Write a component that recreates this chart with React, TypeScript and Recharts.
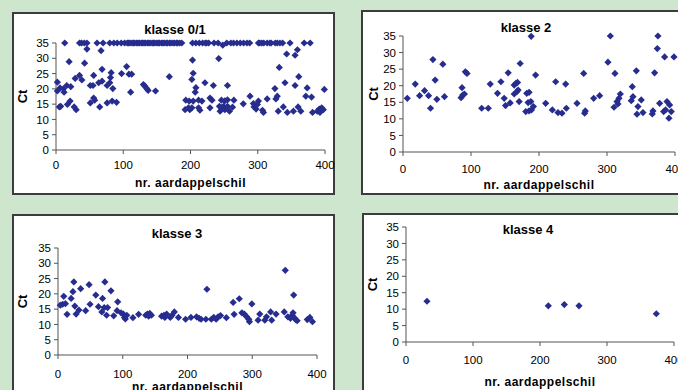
import React from 'react';
import { ScatterChart, Scatter, XAxis, YAxis } from 'recharts';

// Ct-waarden per klasse: [nr. aardappelschil, Ct]
const klasse01: [number, number][] = [
  [13, 35], [35, 35], [38, 35], [42, 35], [46, 35], [61, 35], [70, 35], [80, 35], [86, 35], [91, 35],
  [97, 35], [102, 35], [106, 35], [108, 35], [110, 35], [113, 35], [115, 35], [117, 35], [120, 35],
  [122, 35], [124, 35], [127, 35], [129, 35], [131, 35], [133, 35], [136, 35], [138, 35], [140, 35],
  [143, 35], [145, 35], [147, 35], [150, 35], [152, 35], [154, 35], [157, 35], [159, 35], [161, 35],
  [164, 35], [166, 35], [169, 35], [171, 35], [174, 35], [176, 35], [179, 35], [181, 35], [184, 35],
  [187, 35], [203, 35], [208, 35], [213, 35], [218, 35], [222, 35], [224, 35], [227, 35], [235, 35],
  [241, 35], [248, 34.3], [254, 35], [260, 35], [264, 35], [269, 35], [274, 35], [279, 35], [284, 35],
  [288, 35], [301, 35], [303, 35], [306, 35], [309, 35], [314, 35], [318, 35], [320, 35], [326, 35],
  [329, 35], [333, 35], [337, 35], [348, 35], [369, 35], [378, 35],
  [46, 33], [67, 32.5], [19.5, 28.9], [42.5, 28.4], [105, 27.3], [68.5, 26.4], [97.5, 25], [108.5, 24.8],
  [112.5, 24.8], [82, 25.3], [56, 24.4], [35, 24.4], [28.5, 23.4], [38.5, 22.9], [81, 23.7], [80, 22],
  [2, 22.2], [16, 21.1], [22, 20.7], [51, 21.1], [55, 21.1], [63.5, 22], [68.5, 22.5], [76, 21.1],
  [84.5, 20.1], [130, 21.4], [6, 20.3], [11, 20], [2, 19.3], [12, 18.9], [111, 18.9], [56, 17],
  [57.5, 16.3], [21, 16], [17, 14.9], [51, 15.4], [83.5, 16], [76, 15.4], [90, 15.6], [5, 14.1],
  [7, 14.3], [27, 14.1], [30, 13.2], [65, 14.1],
  [132, 20.9], [135, 20.1], [137, 19.5], [148, 19.3], [168.5, 24], [203, 29.4], [242, 29.9], [204, 25.1],
  [202, 23.1], [221.5, 22], [234, 21.1], [255, 21.1], [208, 20.4], [207, 18.9], [193, 16.3], [198, 16],
  [204, 16], [212, 16.3], [217, 16], [229, 17], [232, 16.3], [246, 16.3], [251, 16.1], [255, 16.4],
  [192, 13.2], [197, 13.8], [199, 13.2], [202, 13.8], [212, 13.8], [214, 13], [229, 13.8], [243, 14.3],
  [246, 13.8], [249, 14.3], [244, 12.7], [251, 13.2], [258, 12.7], [255, 14.3],
  [359, 32.8], [355.5, 31], [343, 31.4], [332, 27], [340.5, 22], [361, 24], [355.5, 21.1], [325.5, 20.1],
  [373.5, 20.3], [399, 19.8], [329, 17.6], [327, 16.7], [371.5, 17.6], [380, 17.3], [314, 16.7],
  [288.5, 17.6], [264.5, 16.3], [262.5, 14], [278.5, 15.1], [293.5, 15.2], [294.5, 14.1], [297.5, 13.4],
  [301, 16], [299.5, 14.9], [307, 13], [308.5, 12.3], [330.5, 12.7], [338, 14.1], [344, 12.3], [353, 12.7],
  [360, 14.1], [364, 12.7], [381.5, 12.3], [388.5, 12.7], [391.5, 13.4], [395, 13.8], [397.5, 13.2],
  [392.5, 12.3],
];

const klasse2: [number, number][] = [
  [6.3, 16.2], [18, 20.5], [24.4, 17], [31.7, 18.5], [37.6, 17], [40.5, 13.2], [44, 27.9], [47.3, 21.7],
  [49.8, 15.9], [58.6, 26.5], [61, 16.7], [85.4, 16.4], [87.8, 17.2], [90.3, 17.5], [86.8, 19.4],
  [91.7, 24.2], [94.2, 23.7], [115.7, 13.2], [125.4, 13.2], [128.3, 20.5], [139, 17.7], [144, 21.2],
  [148.8, 16.2], [154.7, 23.9], [157.6, 14.8], [150.8, 14], [163.5, 20.2], [166, 20.7], [168.4, 21],
  [163.5, 17.5], [167.4, 18.2], [169.3, 18.7], [172.3, 26.7], [170.8, 15.2], [182, 17.7], [185.4, 18],
  [180.6, 12.2], [185.4, 12.4], [184, 14.9], [188, 15.2], [188.5, 34.9], [188.9, 12.7], [191.8, 13.7],
  [195, 23.2], [209.8, 14.7], [219.6, 12.7], [224.5, 21.2], [227.9, 11.9], [233.8, 11.7], [239.2, 20.5],
  [240.2, 13.2], [255.9, 14.7], [265.7, 23.7], [268.1, 12.4], [267.1, 11.7], [280.4, 16.2], [289.2, 17],
  [301.4, 27.1], [304.9, 35], [311.7, 23.7], [310.3, 13.5], [314.7, 15.2], [317.6, 16.2], [319.6, 17.5],
  [316.1, 14.5], [335.7, 15.5], [338.2, 16.7], [337.2, 19.7], [343.1, 24.5], [345.5, 13.7], [344.1, 11.4],
  [350.4, 15.7], [352.9, 11.9], [367.6, 12.4], [366.6, 11.5], [370, 23.9], [374.9, 35], [374, 31.2],
  [384.7, 28.7], [377.4, 14.7], [383.3, 12.2], [386.2, 12.7], [388.2, 15.2], [392.1, 14.2], [394.5, 12.2],
  [391.1, 10.2], [398.5, 28.7],
];

const klasse3: [number, number][] = [
  [3.6, 16.3], [7.3, 16.6], [11.5, 16.8], [8.9, 19.2], [14, 13.3], [20.3, 18.5], [23, 20.7], [24.5, 23.9],
  [26, 16], [32.3, 14.7], [28, 13.4], [35, 21.7], [42.7, 14.5], [48, 23], [49.5, 16.6], [58.4, 19.6],
  [62.5, 15.8], [67.7, 14.1], [68.8, 18.5], [72.4, 23.9], [71.4, 15.5], [76.6, 15.5], [75, 13], [81.8, 21],
  [86, 12.8], [91.2, 14.5], [92.2, 17.4], [97.4, 13.8], [101, 13.4], [102.6, 12.3], [106.3, 13], [104, 11.8],
  [115.7, 12.2], [124.5, 13.3], [135.5, 13], [138, 13.4], [141.7, 13.6], [144.3, 13], [140, 12.7],
  [160, 12.7], [163.6, 13], [167.8, 13.4], [165, 12.3], [176, 13], [179.7, 14.1], [173.4, 12.3],
  [186, 12.3], [197, 11.7], [205.3, 12.3], [214, 12.5], [218, 12], [221, 11.7], [230, 21.5], [228.4, 11.7],
  [236.8, 11.7], [240.5, 12.3], [244.2, 11.7], [247.3, 12.5], [251, 12.9], [260, 12.2], [270.5, 17.2],
  [280, 18.4], [272, 13.3], [284, 13.8], [287.8, 13.4], [291.5, 12.5], [294.7, 11.7], [295.7, 10.9],
  [299.4, 16.7], [309, 11.4], [311.6, 13.4], [319.4, 11.4], [322, 12.5], [330, 11.4], [328.4, 14.1],
  [336.8, 13.4], [351, 27.7], [349.4, 14.1], [364, 19.6], [355, 12.5], [359, 12], [361.8, 13], [364.4, 12.3],
  [367, 11.6], [369.4, 11.2], [363, 13.8], [385, 11.6], [389, 12.3], [393, 10.9],
];

const klasse4: [number, number][] = [
  [31.3, 12.4], [212.4, 11], [236.3, 11.4], [258.2, 11], [373.6, 8.6],
];

const xTicks = [0, 100, 200, 300, 400];
const yTicks = [0, 5, 10, 15, 20, 25, 30, 35];

const FONT = '"Liberation Sans", Arial, sans-serif';
const MARKER = '#262d8e';

const Diamond = (props: any) => {
  const { cx, cy } = props;
  if (cx == null || cy == null) return null;
  const r = 3.6;
  return (
    <polygon
      points={`${cx},${cy - r} ${cx + r},${cy} ${cx},${cy + r} ${cx - r},${cy}`}
      fill={MARKER}
    />
  );
};

const XLabel = (props: any) => {
  const { viewBox, dy } = props;
  if (!viewBox) return null;
  return (
    <text
      x={viewBox.x + viewBox.width / 2}
      y={viewBox.y + dy}
      textAnchor="middle"
      dominantBaseline="central"
      fontFamily={FONT}
      fontWeight="bold"
      fontSize={12}
      letterSpacing={0.5}
      fill="#000"
    >
      nr. aardappelschil
    </text>
  );
};

const YLabel = (props: any) => {
  const { viewBox, cx } = props;
  if (!viewBox) return null;
  const cy = viewBox.y + viewBox.height / 2;
  return (
    <text
      x={cx}
      y={cy}
      transform={`rotate(-90, ${cx}, ${cy})`}
      textAnchor="middle"
      dominantBaseline="central"
      fontFamily={FONT}
      fontWeight="bold"
      fontSize={13}
      fill="#000"
    >
      Ct
    </text>
  );
};

interface PanelProps {
  title: string;
  points: [number, number][];
  left: number;
  top: number;
  width: number;
  height: number;
  margin: { top: number; right: number; bottom: number; left: number };
  xAxisHeight: number;
  tickMargin: number;
  xLabelDy: number;
  ctX: number;
  titleX: number;
  titleY: number;
}

function Panel(p: PanelProps) {
  const data = p.points.map(([x, y]) => ({ x, y }));
  const tickStyle = { fontFamily: FONT, fontSize: 11.5, fill: '#000' };
  return (
    <div
      style={{
        position: 'absolute',
        left: p.left,
        top: p.top,
        width: p.width,
        height: p.height,
        boxSizing: 'border-box',
        border: '2px solid #3c3c3c',
        background: '#fff',
      }}
    >
      <ScatterChart width={p.width - 4} height={p.height - 4} margin={p.margin}>
        <XAxis
          type="number"
          dataKey="x"
          domain={[0, 400]}
          ticks={xTicks}
          interval={0}
          height={p.xAxisHeight}
          tickSize={4}
          tickMargin={p.tickMargin}
          tick={tickStyle}
          stroke="#555"
          label={<XLabel dy={p.xLabelDy} />}
        />
        <YAxis
          type="number"
          dataKey="y"
          domain={[0, 35]}
          ticks={yTicks}
          interval={0}
          width={38}
          tickSize={4}
          tickMargin={3}
          tick={tickStyle}
          stroke="#555"
          label={<YLabel cx={p.ctX} />}
        />
        <Scatter data={data} shape={Diamond} isAnimationActive={false} />
      </ScatterChart>
      <div
        style={{
          position: 'absolute',
          left: p.titleX,
          top: p.titleY,
          transform: 'translate(-50%, -50%)',
          fontFamily: FONT,
          fontWeight: 'bold',
          fontSize: 13,
          whiteSpace: 'nowrap',
          lineHeight: 1,
        }}
      >
        {p.title}
      </div>
    </div>
  );
}

export default function App() {
  return (
    <div
      style={{
        position: 'fixed',
        left: 0,
        top: 0,
        width: 678,
        height: 390,
        overflow: 'hidden',
        background: '#cde6cd',
      }}
    >
      <style>{'.recharts-surface { overflow: visible; }'}</style>
      <Panel
        title="klasse 0/1"
        points={klasse01}
        left={12}
        top={12}
        width={323}
        height={183}
        margin={{ top: 29, right: 8, bottom: 0, left: 4 }}
        xAxisHeight={43}
        tickMargin={7}
        xLabelDy={33}
        ctX={8}
        titleX={161}
        titleY={15}
      />
      <Panel
        title="klasse 2"
        points={klasse2}
        left={361}
        top={10}
        width={330}
        height={185}
        margin={{ top: 24, right: 14, bottom: 0, left: 2 }}
        xAxisHeight={41}
        tickMargin={9}
        xLabelDy={33}
        ctX={10}
        titleX={163}
        titleY={15}
      />
      <Panel
        title="klasse 3"
        points={klasse3}
        left={12}
        top={214}
        width={323}
        height={190}
        margin={{ top: 32, right: 16, bottom: 0, left: 6 }}
        xAxisHeight={47}
        tickMargin={11}
        xLabelDy={32}
        ctX={8}
        titleX={163}
        titleY={17}
      />
      <Panel
        title="klasse 4"
        points={klasse4}
        left={362}
        top={213}
        width={330}
        height={190}
        margin={{ top: 12, right: 16, bottom: 0, left: 4 }}
        xAxisHeight={59}
        tickMargin={10}
        xLabelDy={40}
        ctX={8}
        titleX={164}
        titleY={14}
      />
    </div>
  );
}
